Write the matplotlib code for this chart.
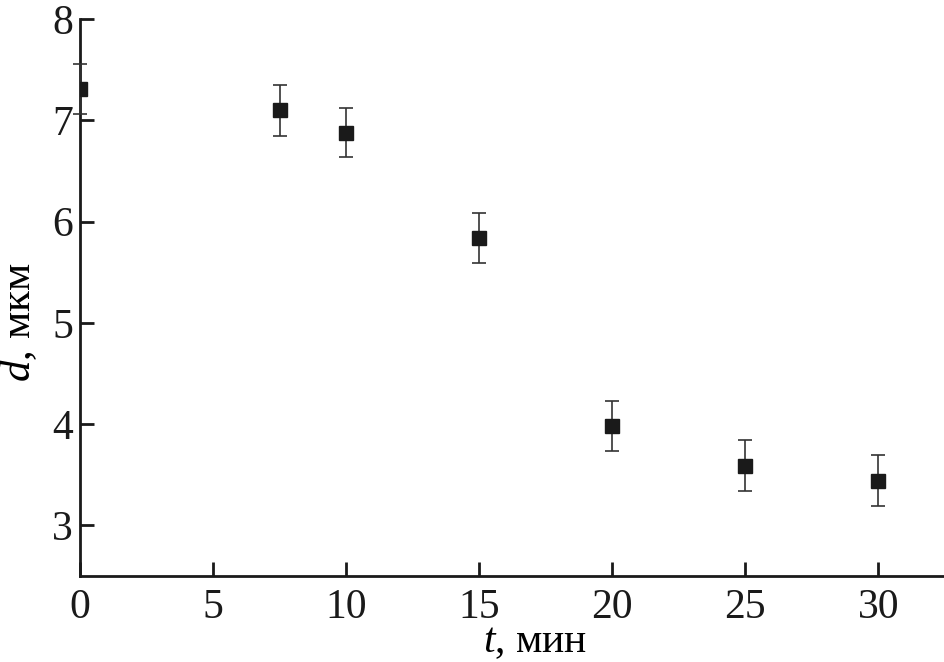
import matplotlib.pyplot as plt

plt.rcParams['font.family'] = ['Liberation Serif', 'DejaVu Serif']
plt.rcParams['mathtext.fontset'] = 'custom'
plt.rcParams['mathtext.it'] = 'Liberation Serif:italic'
plt.rcParams['mathtext.rm'] = 'Liberation Serif'

t = [0, 7.5, 10, 15, 20, 25, 30]
d = [7.31, 7.10, 6.88, 5.84, 3.98, 3.59, 3.44]
d_err = [0.25, 0.25, 0.24, 0.25, 0.25, 0.25, 0.25]

fig = plt.figure(figsize=(9.45, 6.62), dpi=100)
ax = fig.add_axes([0.0847, 0.13, 0.9153, 0.841])

# error bars are not clipped, the markers are (half square at t = 0)
ax.errorbar(t, d, yerr=d_err, fmt='none', ecolor='#333333',
            elinewidth=1.2, capsize=5, capthick=1.2,
            clip_on=False, zorder=3)
ax.plot(t, d, 's', color='#1a1a1a', markersize=10, zorder=4)

ax.set_xlim(0, 32.5)
ax.set_ylim(2.5, 8)
ax.set_xticks([0, 5, 10, 15, 20, 25, 30])
ax.set_yticks([3, 4, 5, 6, 7, 8])

for s in ['top', 'right']:
    ax.spines[s].set_visible(False)
for s in ['left', 'bottom']:
    ax.spines[s].set_linewidth(2)
    ax.spines[s].set_color('#1a1a1a')

ax.tick_params(direction='in', length=10, width=2, labelsize=30, colors='#1a1a1a')
ax.tick_params(axis='x', pad=9)
ax.tick_params(axis='y', pad=5)

ax.set_xlabel(r'$t$, мин', fontsize=30)
ax.set_ylabel(r'$d$, мкм', fontsize=31)
ax.xaxis.set_label_coords(0.526, -0.083)
ax.yaxis.set_label_coords(-0.047, 0.456)

fig.savefig('out.png', dpi=100)
